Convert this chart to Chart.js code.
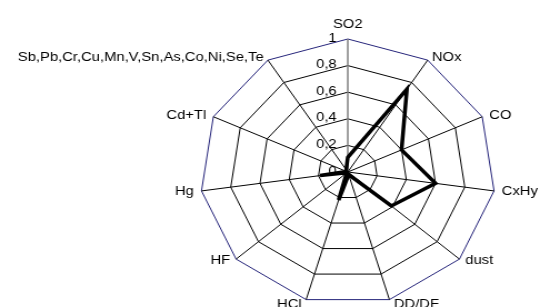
<!DOCTYPE html>
<html>
<head>
<meta charset="utf-8">
<script src="https://cdn.jsdelivr.net/npm/chart.js@4"></script>
<style>
	html, body { margin: 0; padding: 0; background: #fff; overflow: hidden; }
	#wrap { width: 550px; height: 307px; overflow: hidden; }
	/* the picture is stretched sideways, so the canvas is too */
	#myChart { transform: scale(1.1111, 1); transform-origin: 0 0; }
</style>
</head>
<body>
<div id="wrap"><canvas id="myChart" width="495" height="307"></canvas></div>
<script>
var categories = ['SO2', 'NOx', 'CO', 'CxHy', 'dust', 'DD/DF', 'HCl', 'HF', 'Hg', 'Cd+Tl',
	'Sb,Pb,Cr,Cu,Mn,V,Sn,As,Co,Ni,Se,Te'];
var values = [0.11, 0.74, 0.40, 0.60, 0.39, 0.02, 0.22, 0.01, 0.19, 0.01, 0.02];
var tickLabels = ['0', '0,2', '0,4', '0,6', '0,8', '1'];

var FONT = '13.3px Arial, "Liberation Sans", sans-serif';

// tick labels and axis names drawn under the data line, placed from the scale
var labelPlugin = {
	id: 'excelLabels',
	beforeDatasetsDraw: function(chart) {
		var scale = chart.scales.r;
		var ctx = chart.ctx;
		ctx.save();
		ctx.font = FONT;
		ctx.fillStyle = '#000';

		ctx.textAlign = 'right';
		ctx.textBaseline = 'middle';
		scale.ticks.forEach(function(t) {
			var d = scale.getDistanceFromCenterForValue(t.value);
			ctx.fillText(t.label, scale.xCenter - 10, scale.yCenter - d - 1);
		});

		for (var i = 0; i < chart.data.labels.length; i++) {
			var p = scale.getPointPosition(i, scale.drawingArea);
			var a = scale.getIndexAngle(i);
			var s = Math.sin(a), c = Math.cos(a);
			var x, y;
			if (Math.abs(s) < 0.05) {
				ctx.textAlign = 'center';
				ctx.textBaseline = 'alphabetic';
				x = p.x;
				y = p.y - 11;
			} else if (c < -0.9) {
				ctx.textAlign = s > 0 ? 'left' : 'right';
				ctx.textBaseline = 'alphabetic';
				x = p.x + (s > 0 ? 4 : -4);
				y = p.y + 8;
			} else {
				ctx.textAlign = s > 0 ? 'left' : 'right';
				ctx.textBaseline = 'middle';
				x = p.x + (s > 0 ? 1 : -1) * 7 * Math.abs(s);
				y = p.y - 3 * c - 0.5;
			}
			ctx.fillText(chart.data.labels[i], x, y);
		}
		ctx.restore();
	}
};

var config = {
	type: 'radar',
	data: {
		labels: categories,
		datasets: [{
			label: 'values',
			data: values,
			fill: false,
			borderColor: '#000',
			borderWidth: 3.5,
			pointRadius: 0,
			pointHoverRadius: 0,
			tension: 0
		}]
	},
	options: {
		responsive: false,
		animation: false,
		layout: {
			padding: { left: 180, right: 49, top: 39, bottom: 2 }
		},
		plugins: {
			legend: { display: false },
			tooltip: { enabled: false }
		},
		scales: {
			r: {
				min: 0,
				max: 1,
				ticks: {
					stepSize: 0.2,
					display: false,
					callback: function(v, i) { return tickLabels[i]; }
				},
				pointLabels: { display: false },
				grid: {
					lineWidth: 1,
					color: function(ctx) {
						return ctx.index === tickLabels.length - 1 ? '#25247a' : '#000';
					}
				},
				angleLines: {
					lineWidth: function(ctx) { return ctx.index === 0 ? 1.5 : 1; },
					color: function(ctx) { return ctx.index === 0 ? '#808080' : '#000'; }
				}
			}
		}
	},
	plugins: [labelPlugin]
};

var ctx = document.getElementById('myChart').getContext('2d');
window.myRadar = new Chart(ctx, config);
</script>
</body>
</html>
